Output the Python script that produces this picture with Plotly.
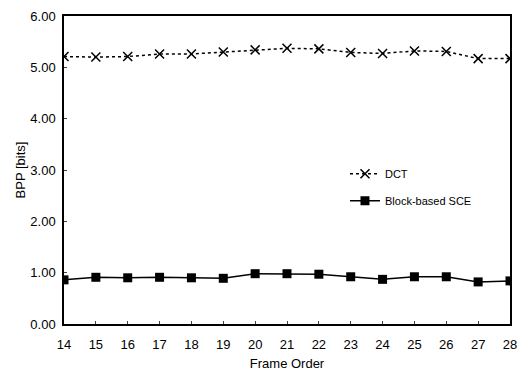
import plotly.graph_objects as go

frames = list(range(14, 29))
dct = [5.21, 5.20, 5.21, 5.26, 5.26, 5.30, 5.34, 5.37, 5.36, 5.29, 5.27, 5.32, 5.31, 5.17, 5.17]
sce = [0.86, 0.91, 0.90, 0.91, 0.90, 0.89, 0.98, 0.98, 0.97, 0.92, 0.87, 0.92, 0.92, 0.82, 0.84]
y_ticks = [0, 1, 2, 3, 4, 5, 6]
y_labels = ["0.00", "1.00", "2.00", "3.00", "4.00", "5.00", "6.00"]

fig = go.Figure()
fig.add_trace(go.Scatter(
    x=frames, y=dct, name="DCT", mode="lines+markers", legendgroup="a",
    line=dict(color="black", width=1.5, dash="dot"),
    marker=dict(symbol="x-thin", size=9, line=dict(color="black", width=1.5)),
))
fig.add_trace(go.Scatter(
    x=frames, y=sce, name="Block-based SCE", mode="lines+markers", legendgroup="b",
    line=dict(color="black", width=1.5),
    marker=dict(symbol="square", size=9, color="black"),
))

fig.update_layout(
    width=525, height=378,
    margin=dict(l=64, r=8, t=16, b=54),
    paper_bgcolor="white", plot_bgcolor="white",
    font=dict(family="Liberation Sans, Arial, sans-serif", size=13, color="black"),
    showlegend=True,
    legend=dict(x=0.63, y=0.535, xanchor="left", yanchor="top",
                bgcolor="rgba(0,0,0,0)", font=dict(size=11),
                tracegroupgap=8, itemwidth=30),
    xaxis=dict(
        range=[14, 28], tickmode="array", tickvals=frames,
        showgrid=False, zeroline=False, showline=True, linecolor="black",
        linewidth=1.5, mirror=True, ticks="inside", ticklen=3,
        ticklabelstandoff=8,
        title=dict(text="Frame Order", standoff=8, font=dict(size=13)),
    ),
    yaxis=dict(
        range=[0, 6], tickmode="array", tickvals=y_ticks, ticktext=y_labels,
        showgrid=False, zeroline=False, showline=True, linecolor="black",
        linewidth=1.5, mirror=True, ticks="inside", ticklen=3,
        ticklabelstandoff=4,
        title=dict(text="BPP [bits]", standoff=2, font=dict(size=13)),
    ),
)

fig.write_html("out.html")
